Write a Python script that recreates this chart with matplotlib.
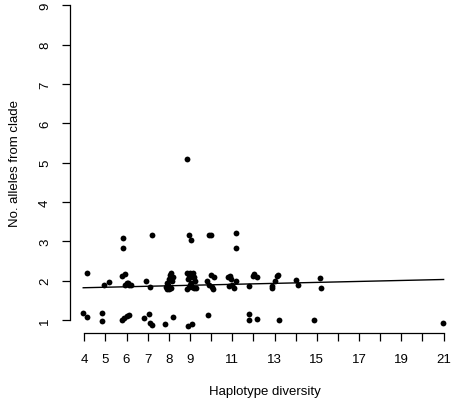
import numpy as np
import matplotlib
matplotlib.use('Agg')
import matplotlib.pyplot as plt

plt.rcParams['font.family'] = ['Liberation Sans', 'DejaVu Sans']

# haplotype diversity (jittered) and number of alleles from clade (jittered)
hap_div = [3.95, 4.11, 4.11,
           4.82, 4.85, 4.95, 5.18,
           5.82, 5.85, 5.80, 5.95, 6.00, 6.10, 6.20, 5.95, 6.05, 5.80, 5.90, 6.00, 6.10,
           6.92, 7.10, 7.19, 6.83, 7.08, 7.11, 7.20,
           7.83, 8.18, 7.85, 7.90, 7.95, 8.00, 8.05, 8.10, 8.15, 8.20, 7.90, 8.10, 8.00,
           8.86, 8.94, 9.05, 8.90, 9.10, 8.85, 8.90, 8.95, 9.00, 9.05, 9.10, 9.15, 9.20,
           9.25, 8.88, 9.00, 9.10, 9.20, 8.95, 9.30,
           9.90, 10.00, 9.85, 9.80, 9.90, 10.00, 10.05, 10.15, 10.10,
           11.18, 11.18, 10.80, 10.90, 10.95, 10.85, 11.10, 11.20, 11.00,
           11.80, 11.80, 11.80, 12.15, 12.00, 12.05, 12.15,
           12.86, 12.90, 13.00, 13.10, 13.15, 13.20,
           14.03, 14.10,
           14.87, 15.15, 15.20,
           20.98]
n_alleles = [1.18, 1.07, 2.20,
             1.18, 0.97, 1.88, 1.96,
             3.08, 2.82, 2.12, 2.17, 1.93, 1.88, 1.88, 1.90, 1.95, 0.99, 1.04, 1.10, 1.13,
             1.98, 1.85, 3.15, 1.04, 1.15, 0.92, 0.88,
             0.89, 1.07, 1.85, 1.80, 1.90, 2.05, 2.15, 2.20, 2.00, 2.10, 1.95, 1.82, 1.80,
             5.10, 3.15, 3.03, 0.85, 0.89, 2.20, 2.05, 1.85, 2.20, 1.95, 2.10, 2.20, 1.82,
             2.00, 1.80, 1.90, 1.85, 2.10, 2.15, 1.82,
             3.15, 3.15, 1.12, 2.00, 1.88, 2.15, 1.85, 2.10, 1.80,
             3.20, 2.82, 2.10, 2.12, 2.05, 1.87, 1.82, 2.00, 1.90,
             1.87, 1.15, 1.00, 1.02, 2.12, 2.17, 2.10,
             1.87, 1.82, 2.00, 2.12, 2.15, 1.00,
             2.02, 1.90,
             1.00, 2.06, 1.82,
             0.92]

# fitted line
fit_x = [3.95, 21.0]
fit_y = [1.82, 2.03]

x_ticks = list(range(4, 22))
x_labels = ['4', '5', '6', '7', '8', '9', '', '11', '', '13', '', '15', '', '17', '', '19', '', '21']
y_ticks = list(range(1, 10))

fig = plt.figure(figsize=(4.51, 4.06), dpi=100)
ax = fig.add_axes([69.9 / 451, (406 - 333.6) / 406, (458 - 69.9) / 451, (333.6 + 6.3) / 406])

ax.plot(hap_div, n_alleles, 'o', color='black', markersize=4.2, markeredgewidth=0)
ax.plot(fit_x, fit_y, color='black', linewidth=1)

ax.set_xlim(3.32, 21.68)
ax.set_ylim(0.68, 9.32)

for s in ['top', 'right']:
    ax.spines[s].set_visible(False)
ax.spines['left'].set_bounds(1, 9)
ax.spines['bottom'].set_bounds(4, 21)
ax.spines['left'].set_linewidth(0.9)
ax.spines['bottom'].set_linewidth(0.9)

ax.set_xticks(x_ticks)
ax.set_xticklabels(x_labels, fontsize=9.5)
ax.set_yticks(y_ticks)
ax.set_yticklabels([str(v) for v in y_ticks], fontsize=9.5, rotation=90, va='center')
ax.tick_params(direction='out', length=6, width=0.9)
ax.tick_params(axis='x', pad=9)
ax.tick_params(axis='y', pad=7.5)

ax.set_xlabel('Haplotype diversity', fontsize=9.5, va='center')
ax.set_ylabel('No. alleles from clade', fontsize=9.5, va='center')
ax.xaxis.set_label_coords((265 - 69.9) / 388.1, (333.6 - 392) / 339.9)
ax.yaxis.set_label_coords((15 - 69.9) / 388.1, (333.6 - 164) / 339.9)

plt.savefig('out.png', dpi=100)
